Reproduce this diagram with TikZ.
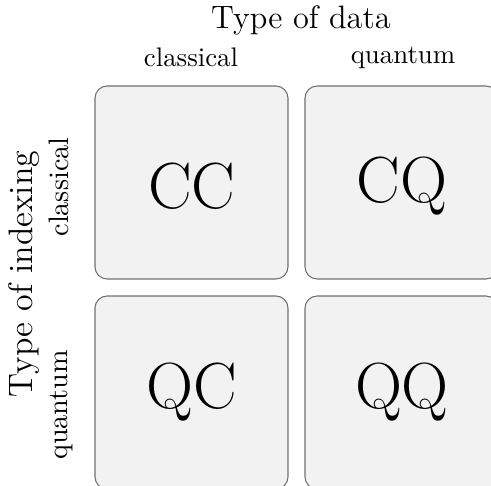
\documentclass[tikz,border=0pt]{standalone}
\usetikzlibrary{positioning}
\definecolor{cellfill}{HTML}{F2F2F2}
\definecolor{celldraw}{HTML}{707070}
\begin{document}
\begin{tikzpicture}[x=0.38pt,y=-0.38pt,
  cell/.style={draw=celldraw,fill=cellfill,line width=0.4pt,rounded corners=4.6pt},
  big/.style={font=\fontsize{24.8}{29}\selectfont},
  head/.style={font=\fontsize{12.3}{14}\selectfont},
  vhead/.style={font=\fontsize{12.9}{15}\selectfont},
  sub/.style={font=\fontsize{10.2}{12}\selectfont},
  vsub/.style={font=\fontsize{10.7}{12}\selectfont}]
\useasboundingbox (0,0) rectangle (491,486);
\draw[cell] (95,86) rectangle (288,279);
\draw[cell] (305,86) rectangle (498,279);
\draw[cell] (95,296) rectangle (288,489);
\draw[cell] (305,296) rectangle (498,489);
\node[big] (cc) at (192,186) {CC};
\node[big] (cq) at (402,186) {CQ};
\node[big] (qc) at (192,392) {QC};
\node[big] (qq) at (402,392) {QQ};
\node[head,anchor=base] (tdata) at (301,29) {Type of data};
\node[sub,anchor=base] (dcl) at (191,66.5) {classical};
\node[sub,anchor=base] (dqu) at (403,64) {quantum};
\node[vhead,anchor=base,rotate=90] (tidx) at (33,274) {Type of indexing};
\node[vsub,anchor=base,rotate=90] (icl) at (69,187) {classical};
\node[vsub,anchor=base,rotate=90] (iqu) at (68,405) {quantum};
\end{tikzpicture}
\end{document}
